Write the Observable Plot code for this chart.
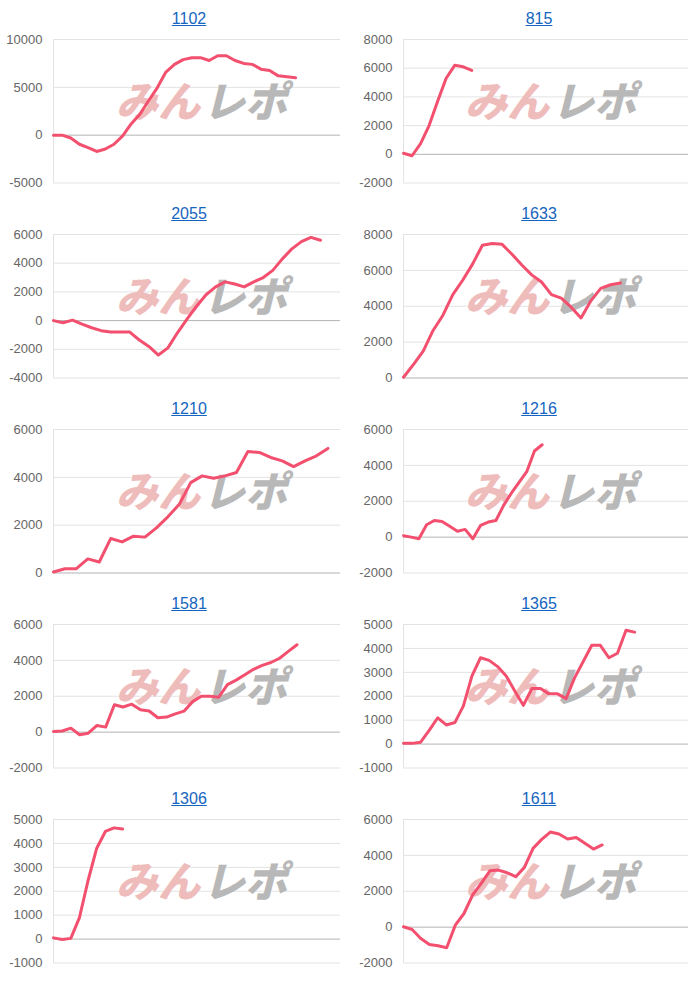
<!DOCTYPE html>
<html><head><meta charset="utf-8">
<script src="https://cdn.jsdelivr.net/npm/d3@7"></script>
<script src="https://cdn.jsdelivr.net/npm/@observablehq/plot@0.6"></script>
<style>
body{margin:0;background:#fff;font-family:"Liberation Sans",Arial,sans-serif;}
#grid{display:grid;grid-template-columns:350px 350px;width:700px;}
.panel{height:195px;position:relative;overflow:hidden;}
.title{height:30px;box-sizing:border-box;padding-top:9px;padding-left:28px;text-align:center;font-size:16px;line-height:20px;}
.title a{color:#1565c0;text-decoration:underline;}
.panel svg{display:block;}
</style></head><body><div id="grid"></div>
<script>
const titles = ["1102","815","2055","1633","1210","1216","1581","1365","1306","1611"];
const s1102 = [0,0,-300,-950,-1300,-1700,-1450,-950,-70,1200,2200,3600,4950,6600,7400,7900,8100,8100,7800,8300,8300,7800,7500,7400,6900,6750,6200,6100,6000];
const s815  = [70,-100,750,2000,3700,5300,6200,6100,5850];
const s2055 = [0,-150,30,-250,-500,-700,-800,-800,-800,-1350,-1800,-2400,-1900,-850,100,1000,1800,2350,2700,2550,2350,2700,3000,3500,4300,5000,5500,5800,5600];
const s1633 = [40,750,1500,2650,3500,4650,5450,6350,7400,7500,7450,6900,6300,5750,5350,4650,4450,3950,3350,4300,5000,5200,5300];
const s1210 = [40,180,180,590,460,1440,1300,1540,1500,1890,2350,2870,3780,4060,3960,4060,4200,5080,5040,4830,4690,4450,4690,4900,5210];
const s1216 = [80,0,-90,690,930,870,610,330,430,-90,650,840,930,1770,2450,3050,3650,4800,5150];
const s1581 = [40,60,220,-150,-60,370,280,1530,1400,1560,1250,1180,800,840,1020,1170,1700,2000,2000,1950,2650,2900,3200,3500,3720,3880,4120,4500,4870];
const s1365 = [30,30,80,570,1100,800,900,1600,2850,3610,3500,3240,2850,2220,1620,2320,2320,2100,2100,1900,2780,3450,4130,4130,3610,3800,4760,4680];
const s1306 = [50,-20,30,900,2450,3800,4500,4650,4600];
const s1611 = [20,-130,-630,-970,-1040,-1150,110,760,1790,2440,3140,3180,3030,2810,3330,4390,4890,5300,5190,4910,5000,4670,4350,4580];
const series = [s1102,s815,s2055,s1633,s1210,s1216,s1581,s1365,s1306,s1611];
const yMin  = [-5000,-2000,-4000,0,0,-2000,-2000,-1000,-1000,-2000];
const yMax  = [10000,8000,6000,8000,6000,6000,6000,5000,5000,6000];
const yStep = [5000,2000,2000,2000,2000,2000,2000,1000,1000,2000];
const xMax  = [33.2,33.4,30.1,28.9,25.1,37,33,33.3,33.2,33];

const grid = document.getElementById("grid");
titles.forEach((t, i) => {
  const panel = document.createElement("div");
  panel.className = "panel";
  const title = document.createElement("div");
  title.className = "title";
  const a = document.createElement("a");
  a.textContent = t;
  title.appendChild(a);
  panel.appendChild(title);
  const ticks = d3.range(yMin[i], yMax[i] + 1, yStep[i]);
  const right = i % 2 === 1;
  const wm = {frameAnchor: "middle", dy: -8, fontSize: 42, fontWeight: 900, fontStyle: "italic",
              fontFamily: "'Noto Sans CJK JP', sans-serif"};
  const svg = Plot.plot({
    width: 350, height: 165,
    marginTop: 9, marginBottom: 12.5, marginLeft: 53, marginRight: right ? 12 : 10,
    style: {fontFamily: "'Liberation Sans', Arial, sans-serif", fontSize: "13px", color: "#666", background: "transparent", overflow: "visible"},
    x: {domain: [0, xMax[i]], axis: null},
    y: {domain: [yMin[i], yMax[i]], axis: null},
    marks: [
      Plot.ruleY(ticks.filter(d => d !== 0), {stroke: "#e3e3e3", strokeWidth: 1}),
      Plot.ruleX([0], {stroke: "#e3e3e3", strokeWidth: 1}),
      Plot.ruleY([0], {stroke: "#b3b3b3", strokeWidth: 1}),
      Plot.axisY(ticks, {tickSize: 0, tickPadding: 11, label: null, tickFormat: d => String(d), fill: "#666"}),
      Plot.text(["みん"], {...wm, textAnchor: "end", dx: 3, fill: "#efbcbc"}),
      Plot.text(["レポ"], {...wm, textAnchor: "start", dx: 6, fill: "#b8b8b8"}),
      Plot.lineY(series[i], {x: (d, j) => j, y: d => d, stroke: "#f2506e", strokeWidth: 3})
    ]
  });
  panel.appendChild(svg);
  grid.appendChild(panel);
});
</script>
</body></html>
